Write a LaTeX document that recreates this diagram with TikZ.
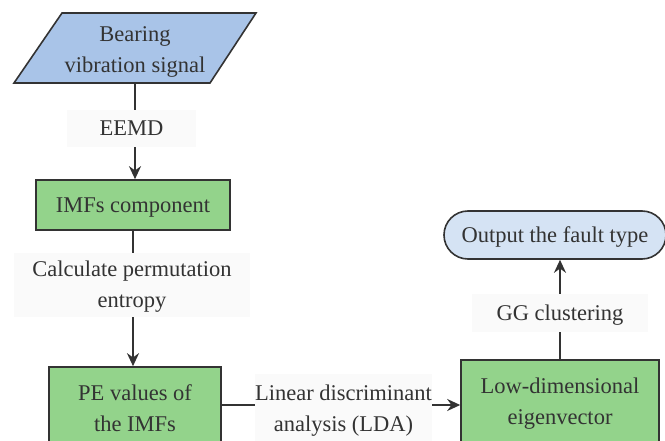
\documentclass[tikz,border=0pt]{standalone}
\usepackage{fontspec}
\setmainfont{Liberation Serif}
\usetikzlibrary{arrows.meta}
\definecolor{inblue}{HTML}{A9C4E8}
\definecolor{boxgreen}{HTML}{93D38B}
\definecolor{outblue}{HTML}{D5E3F4}
\definecolor{labgray}{HTML}{FAFAFA}
\definecolor{ink}{HTML}{333333}
\tikzset{
  every node/.style={text=ink, font=\fontsize{22.5}{31}\selectfont, align=center, inner sep=0pt},
  oneline/.style={text height=14.7pt, text depth=0pt},
  twoline/.style={text height=45.7pt, text depth=0pt},
  procbox/.style={draw=ink, line width=1.6pt, fill=boxgreen},
  labbox/.style={fill=labgray},
  conn/.style={draw=ink, line width=1.8pt},
  arr/.style={conn, -{Stealth[length=13pt,width=12pt]}},
}
\begin{document}
\begin{tikzpicture}[x=1pt,y=-1pt]
\useasboundingbox (0,0) rectangle (665,441);
\clip (0,0) rectangle (665,441);
% input parallelogram
\filldraw[fill=inblue, draw=ink, line width=1.6pt] (62,13) -- (256,13) -- (210,83) -- (14,83) -- cycle;
\node[twoline, minimum height=70, minimum width=150] (in) at (135,50) {Bearing\\vibration signal};
% labels
\node[labbox, oneline, minimum width=129, minimum height=37] (eemd) at (131.5,128.5) {EEMD};
\node[procbox, oneline, minimum width=194, minimum height=50] (imf) at (133,205) {IMFs component};
\node[labbox, twoline, minimum width=236, minimum height=64] (calc) at (132,285) {Calculate permutation\\entropy};
\node[procbox, twoline, minimum width=172, minimum height=84] (pe) at (135,409) {PE values of\\the IMFs};
\node[labbox, twoline, minimum width=177, minimum height=70] (lda) at (343.5,409) {Linear discriminant\\analysis (LDA)};
\node[procbox, twoline, minimum width=198, minimum height=84] (low) at (560,402) {Low-dimensional\\eigenvector};
\node[labbox, oneline, minimum width=176, minimum height=38] (gg) at (560,313) {GG clustering};
\node[oneline, draw=ink, line width=1.6pt, fill=outblue, rounded corners=24pt, minimum width=222, minimum height=48] (out) at (555,235) {Output the fault type};
% connectors
\coordinate (inb) at (135,83);
\coordinate (hline) at (0,405);
\draw[conn] (inb) -- (inb |- eemd.north);
\draw[arr] (eemd.south -| inb) -- (inb |- imf.north);
\draw[conn] (imf.south) -- (calc.north -| imf.south);
\draw[arr] (calc.south -| imf.south) -- (imf.south |- pe.north);
\draw[conn] (pe.east |- hline) -- (lda.west |- hline);
\draw[arr] (lda.east |- hline) -- (low.west |- hline);
\draw[conn] (low.north) -- (gg.south -| low.north);
\draw[arr] (gg.north -| low.north) -- (low.north |- out.south);
\end{tikzpicture}
\end{document}
